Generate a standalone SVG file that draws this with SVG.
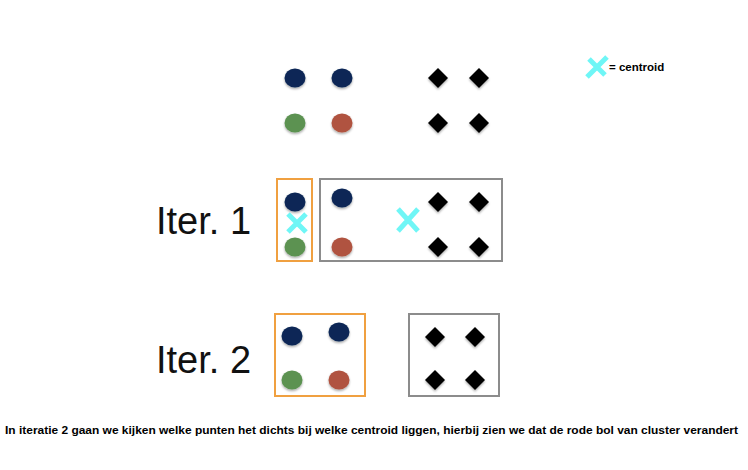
<svg xmlns="http://www.w3.org/2000/svg" width="748" height="470" viewBox="0 0 748 470">
<style>
.blue{fill:#0b2856}
.green{fill:#5b9251}
.red{fill:#b0533f}
.dia{fill:#000}
.box1{fill:none;stroke:#f0a040;stroke-width:2}
.box2{fill:none;stroke:#8c8c8c;stroke-width:2}
.cx{stroke:#6ff6f6;stroke-width:5;stroke-linecap:butt;fill:none}
.big{font-family:"Liberation Sans",Arial,sans-serif;font-size:38px;fill:#111}
.small{font-family:"Liberation Sans",Arial,sans-serif;font-weight:bold;fill:#000}
</style>
<defs>
<filter id="sh" x="-30%" y="-30%" width="160%" height="170%">
<feDropShadow dx="0" dy="1.5" stdDeviation="1" flood-color="#000" flood-opacity="0.35"/>
</filter>
<ellipse id="dot" cx="0" cy="0" rx="10.5" ry="9.5"/>
<polygon id="dm" points="0,-10 10,0 0,10 -10,0"/>
</defs>
<rect width="748" height="470" fill="#fff"/>

<g id="legend">
<path class="cx" d="M587,77 L607,57 M589,59 L605,75" stroke-width="6"/>
<text class="small" x="609" y="71" font-size="11.5">= centroid</text>
</g>

<g id="initial" filter="url(#sh)">
<use href="#dot" class="blue" x="295" y="78"/>
<use href="#dot" class="blue" x="342" y="78"/>
<use href="#dot" class="green" x="295" y="123"/>
<use href="#dot" class="red" x="342" y="123"/>
<use href="#dm" class="dia" x="438" y="78"/>
<use href="#dm" class="dia" x="479" y="78"/>
<use href="#dm" class="dia" x="438" y="123"/>
<use href="#dm" class="dia" x="479" y="123"/>
</g>

<g id="iter1">
<text class="big" x="156" y="234">Iter. 1</text>
<rect class="box1" x="277" y="179" width="35" height="82"/>
<rect class="box2" x="320" y="179" width="182" height="82"/>
<g filter="url(#sh)">
<use href="#dot" class="blue" x="295" y="202"/>
<use href="#dot" class="green" x="295" y="247"/>
<use href="#dot" class="blue" x="342" y="198"/>
<use href="#dot" class="red" x="342" y="247"/>
<use href="#dm" class="dia" x="438" y="202"/>
<use href="#dm" class="dia" x="479" y="202"/>
<use href="#dm" class="dia" x="438" y="247"/>
<use href="#dm" class="dia" x="479" y="247"/>
</g>
<path class="cx" d="M288,214 L306,232 M306,214 L288,232"/>
<path class="cx" d="M398,209 L418,231 M418,209 L398,231" stroke-width="6"/>
</g>

<g id="iter2">
<text class="big" x="156" y="373">Iter. 2</text>
<rect class="box1" x="275" y="314" width="90" height="82"/>
<rect class="box2" x="409" y="314" width="90" height="82"/>
<g filter="url(#sh)">
<use href="#dot" class="blue" x="292" y="336"/>
<use href="#dot" class="blue" x="339" y="332"/>
<use href="#dot" class="green" x="292" y="380"/>
<use href="#dot" class="red" x="339" y="380"/>
<use href="#dm" class="dia" x="435" y="337"/>
<use href="#dm" class="dia" x="475" y="337"/>
<use href="#dm" class="dia" x="435" y="380"/>
<use href="#dm" class="dia" x="475" y="380"/>
</g>
</g>

<text class="small" x="5" y="434" font-size="11" textLength="733" lengthAdjust="spacingAndGlyphs">In iteratie 2 gaan we kijken welke punten het dichts bij welke centroid liggen, hierbij zien we dat de rode bol van cluster verandert</text>
</svg>
